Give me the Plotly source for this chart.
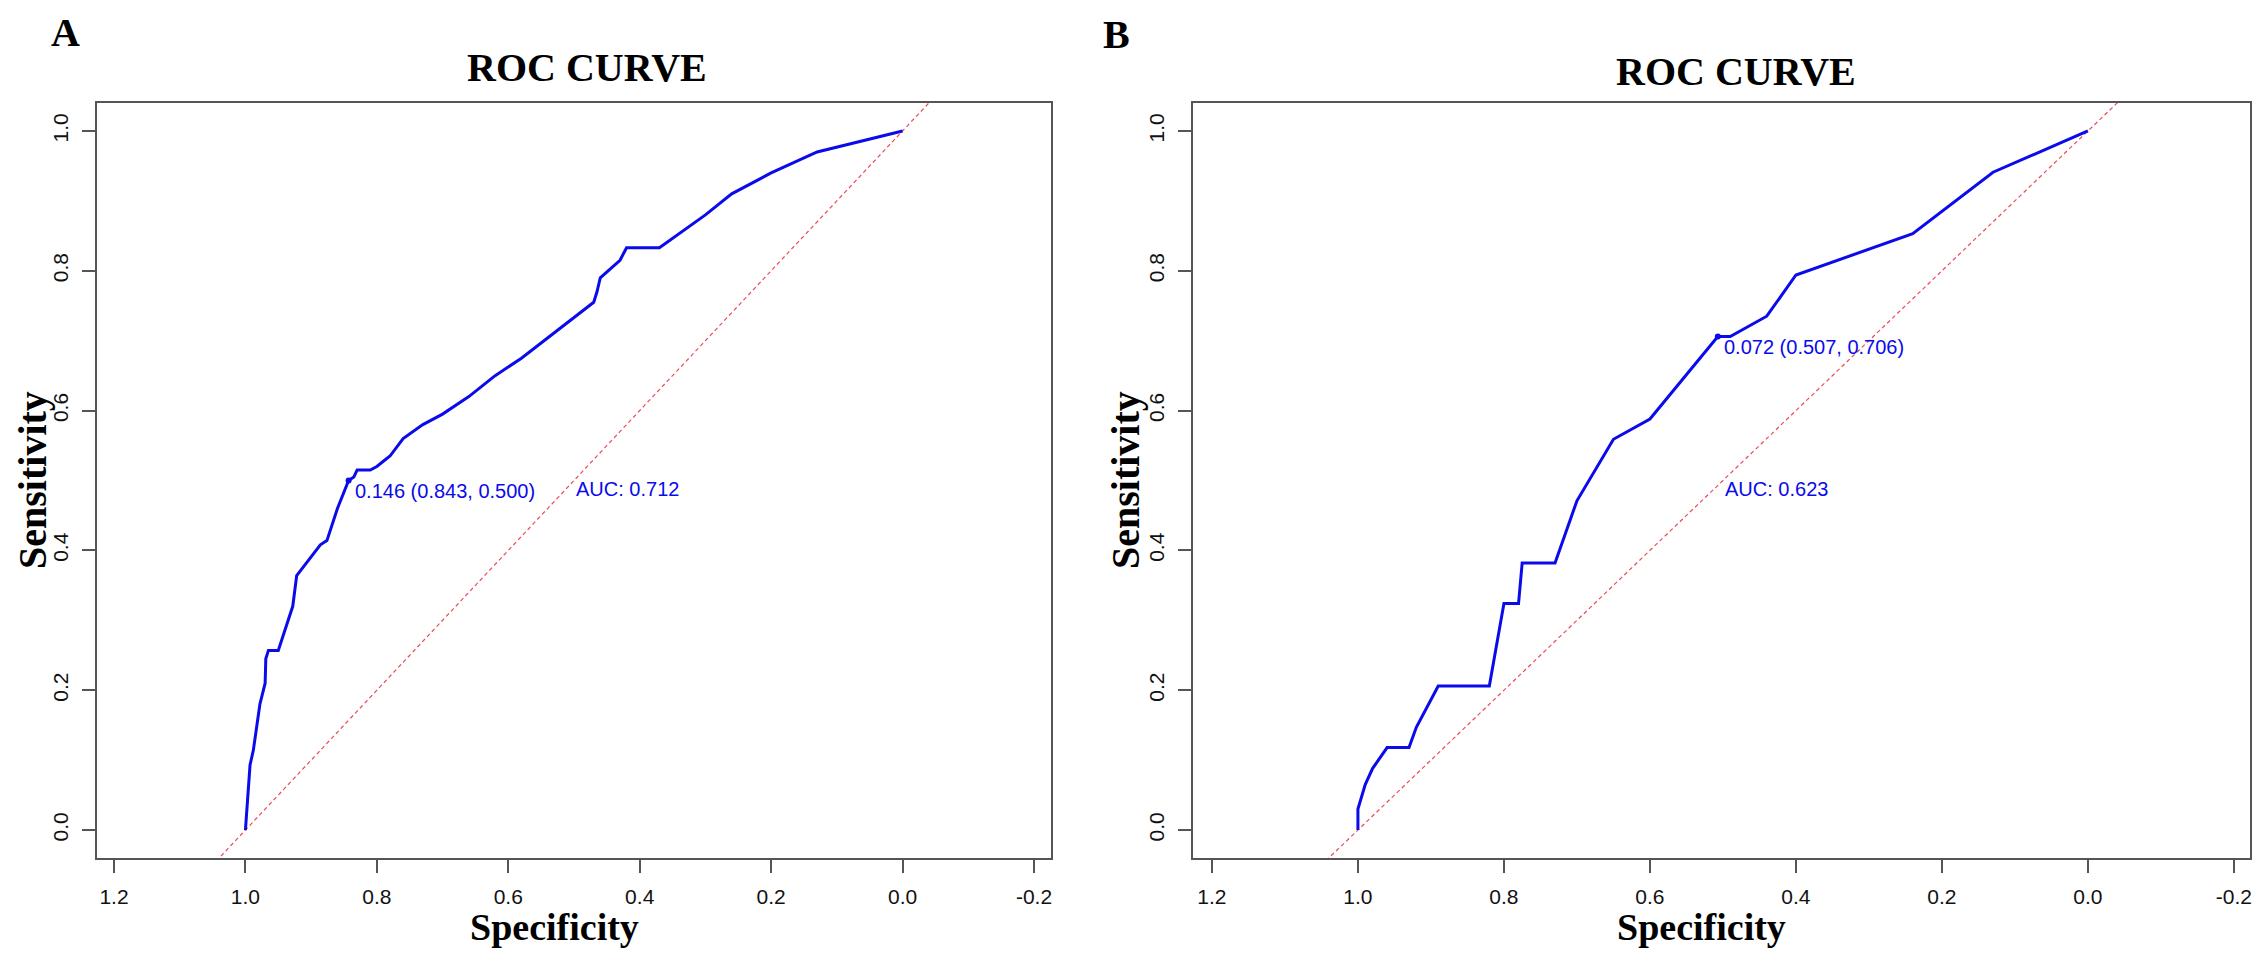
import plotly.graph_objects as go

# panel A roc curve (specificity, sensitivity)
spec_a = [1.0, 0.993, 0.988, 0.978, 0.970, 0.969, 0.965, 0.950, 0.928, 0.922, 0.886, 0.879,
          0.876, 0.860, 0.848, 0.843, 0.835, 0.830, 0.810, 0.800, 0.780, 0.760, 0.730, 0.700,
          0.660, 0.620, 0.580, 0.470, 0.465, 0.460, 0.430, 0.420, 0.370, 0.300, 0.260, 0.200,
          0.130, 0.0]
sens_a = [0.0, 0.093, 0.114, 0.180, 0.210, 0.245, 0.257, 0.257, 0.320, 0.364, 0.408, 0.412,
          0.414, 0.460, 0.490, 0.500, 0.505, 0.515, 0.515, 0.520, 0.535, 0.560, 0.580, 0.595,
          0.620, 0.650, 0.675, 0.755, 0.770, 0.790, 0.815, 0.833, 0.833, 0.880, 0.910, 0.940,
          0.970, 1.0]

# panel B roc curve
spec_b = [1.0, 1.0, 0.99, 0.98, 0.96, 0.93, 0.92, 0.89, 0.82, 0.80, 0.78, 0.775, 0.73,
          0.70, 0.65, 0.60, 0.507, 0.49, 0.44, 0.40, 0.24, 0.13, 0.0]
sens_b = [0.0, 0.03, 0.065, 0.088, 0.118, 0.118, 0.147, 0.206, 0.206, 0.324, 0.324, 0.382,
          0.382, 0.471, 0.559, 0.588, 0.706, 0.706, 0.735, 0.794, 0.853, 0.941, 1.0]

# best threshold and auc
thr_a = (0.843, 0.500, "0.146")
thr_b = (0.507, 0.706, "0.072")
auc_a = 0.712
auc_b = 0.623

diag_x = [1.3, -0.3]
diag_y = [-0.3, 1.3]

blue = "rgb(10,10,235)"
red = "rgb(235,75,85)"
serif = "Liberation Serif, Times New Roman, serif"
sans = "Liberation Sans, Arial, sans-serif"

# page body keeps an 8px margin, so the figure is 16px smaller than the window
OFF = 8
W, H = 2260 - 2 * OFF, 957 - 2 * OFF


def px(v):
    return min(max((v - OFF) / W, 0), 1)


def py(v):
    return min(max(1 - (v - OFF) / H, 0), 1)


fig = go.Figure()

panels = [("x", "y", spec_a, sens_a, thr_a, auc_a),
          ("x2", "y2", spec_b, sens_b, thr_b, auc_b)]

for xa, ya, sp, se, thr, auc in panels:
    fig.add_trace(go.Scatter(x=diag_x, y=diag_y, mode="lines", xaxis=xa, yaxis=ya,
                             line=dict(color=red, width=1.2, dash="4px,3px"), hoverinfo="skip"))
    fig.add_trace(go.Scatter(x=sp, y=se, mode="lines", xaxis=xa, yaxis=ya,
                             line=dict(color=blue, width=3)))
    fig.add_trace(go.Scatter(x=[thr[0]], y=[thr[1]], mode="markers", xaxis=xa, yaxis=ya,
                             marker=dict(color=blue, size=6)))
    fig.add_annotation(x=thr[0], y=thr[1], xref=xa, yref=ya, showarrow=False,
                       text="%s (%.3f, %.3f)" % (thr[2], thr[0], thr[1]),
                       xanchor="left", yanchor="top", xshift=4, yshift=2,
                       font=dict(family=sans, size=20, color=blue))
    fig.add_annotation(x=0.5, y=0.5, xref=xa, yref=ya, showarrow=False,
                       text="AUC: %.3f" % auc, xanchor="left", yanchor="top", yshift=4,
                       font=dict(family=sans, size=20, color=blue))

axis_style = dict(showline=True, mirror=True, linecolor="#555", linewidth=1.5,
                  ticks="outside", ticklen=13, tickcolor="#555", tickwidth=1.5,
                  showgrid=False, zeroline=False, ticklabeloverflow="allow",
                  tickfont=dict(family=sans, size=21, color="#111"))

xticks = [1.2, 1.0, 0.8, 0.6, 0.4, 0.2, 0.0, -0.2]
xlabels = ["1.2", "1.0", "0.8", "0.6", "0.4", "0.2", "0.0", "-0.2"]
yticks = [0.0, 0.2, 0.4, 0.6, 0.8, 1.0]
ylabels = ["0.0", "0.2", "0.4", "0.6", "0.8", "1.0"]

fig.update_layout(
    width=W, height=H, margin=dict(l=0, r=0, t=0, b=0),
    paper_bgcolor="white", plot_bgcolor="white", showlegend=False,
    xaxis=dict(domain=[px(97), px(1052)], range=[1.226, -0.226], tickvals=xticks,
               ticktext=xlabels, anchor="y", ticklabelstandoff=6, **axis_style),
    yaxis=dict(domain=[py(858), py(103)], range=[-0.04, 1.04], tickvals=yticks,
               ticktext=ylabels, anchor="x", tickangle=-90, ticklabelstandoff=6, **axis_style),
    xaxis2=dict(domain=[px(1194), px(2256)], range=[1.226, -0.222], tickvals=xticks,
                ticktext=xlabels, anchor="y2", ticklabelstandoff=6, **axis_style),
    yaxis2=dict(domain=[py(858), py(103)], range=[-0.04, 1.04], tickvals=yticks,
                ticktext=ylabels, anchor="x2", tickangle=-90, ticklabelstandoff=6, **axis_style),
)

# titles, panel letters and axis labels (reference pixel positions)
texts = [
    ("ROC CURVE", 588, 67, 0, 40),
    ("ROC CURVE", 1738, 72, 0, 40),
    ("A", 66, 32, 0, 40),
    ("B", 1117, 35, 0, 40),
    ("Specificity", 555, 927, 0, 38),
    ("Specificity", 1703, 927, 0, 38),
    ("Sensitivity", 32, 480, -90, 40),
    ("Sensitivity", 1126, 480, -90, 40),
]
for txt, x0, y0, ang, size in texts:
    fig.add_annotation(x=px(x0), y=py(y0), xref="paper", yref="paper", text="<b>%s</b>" % txt,
                       showarrow=False, textangle=ang, xanchor="center", yanchor="middle",
                       font=dict(family=serif, size=size, color="black"))

fig.write_html("out.html")
